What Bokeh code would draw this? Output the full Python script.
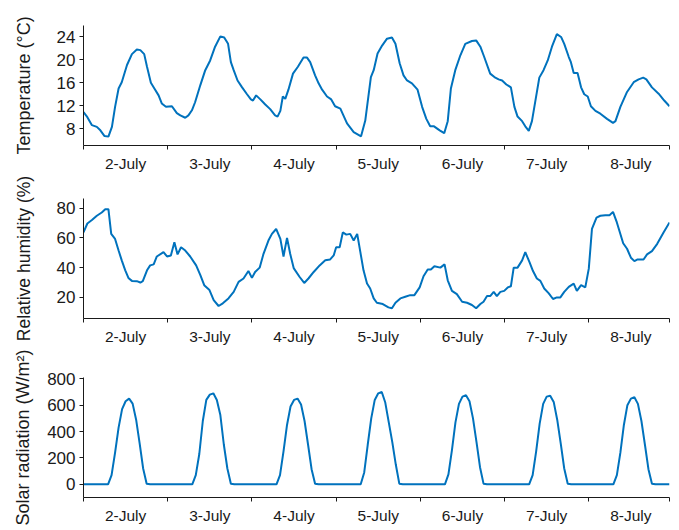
from bokeh.plotting import figure
from bokeh.models import Range1d, FixedTicker
from bokeh.layouts import column
from bokeh.embed import file_html
from bokeh.resources import INLINE

# ---------------- data (hours since 2-July 00:00) ----------------
day_labels = ["2-July", "3-July", "4-July", "5-July", "6-July", "7-July", "8-July"]
day_centers = [12, 36, 60, 84, 108, 132, 156]
day_bounds = [0, 24, 48, 72, 96, 120, 144, 167]

temp_hours = [0.0, 1.1, 2.4, 3.8, 4.8, 6.0, 7.1, 8.1, 9.0, 10.0, 10.9, 12.4, 13.8, 15.2, 16.2,
              17.3, 18.1, 19.2, 20.2, 21.4, 22.3, 23.5, 25.2, 26.6, 27.6, 29.0, 29.9, 30.9, 31.8,
              33.3, 34.7, 36.1, 37.5, 39.0, 40.1, 41.2, 42.0, 42.8, 43.9, 45.2, 46.6, 47.7, 48.3,
              49.2, 50.4, 51.8, 53.2, 54.6, 55.3, 56.1, 56.8, 57.5, 58.4, 59.7, 61.1, 62.7, 63.7,
              64.6, 66.0, 67.0, 68.0, 69.4, 70.6, 71.7, 73.2, 75.1, 77.0, 79.1, 80.3, 81.9, 82.7,
              83.8, 85.1, 86.5, 87.9, 88.9, 90.1, 91.2, 92.2, 93.6, 95.2, 96.5, 97.7, 98.8, 99.9,
              101.5, 102.8, 103.8, 104.7, 106.0, 107.4, 108.8, 110.7, 111.9, 113.1, 114.2, 115.9,
              117.1, 118.3, 119.3, 120.5, 121.8, 122.8, 123.7, 125.0, 125.9, 126.9, 127.8, 129.9,
              131.1, 132.3, 133.5, 134.9, 136.1, 137.0, 138.3, 138.9, 139.7, 140.8, 141.8, 142.7,
              143.7, 144.6, 145.9, 147.3, 149.2, 150.9, 151.6, 153.0, 154.9, 156.8, 158.2, 159.5,
              160.4, 162.0, 163.9, 165.5, 167.0]
temp_values = [10.9, 10.0, 8.6, 8.3, 7.7, 6.7, 6.6, 8.3, 11.8, 15.0, 16.1, 19.1, 21.0, 21.8, 21.7,
               21.0, 18.8, 16.0, 15.0, 13.8, 12.4, 11.8, 11.9, 10.7, 10.3, 9.9, 10.3, 11.2, 12.6,
               15.6, 18.2, 19.9, 22.3, 24.1, 23.9, 22.8, 19.6, 18.2, 16.4, 15.2, 14.0, 13.1, 12.9,
               13.8, 13.1, 12.2, 11.4, 10.3, 10.1, 11.1, 13.6, 13.2, 14.8, 17.6, 18.8, 20.4, 20.4,
               19.6, 17.3, 15.9, 14.8, 13.6, 13.1, 11.9, 11.5, 8.9, 7.4, 6.65, 9.4, 17.0, 18.2,
               21.1, 22.5, 23.7, 23.9, 22.8, 19.4, 17.3, 16.4, 15.9, 14.8, 11.8, 9.7, 8.4, 8.4,
               7.7, 7.2, 9.3, 15.0, 18.3, 20.8, 22.8, 23.3, 23.4, 22.3, 20.5, 17.6,
               17.0, 16.6, 16.4, 15.7, 15.2, 11.8, 10.1, 9.3, 8.4, 7.6, 9.3, 16.9,
               18.2, 19.9, 22.3, 24.5, 24.0, 22.8, 20.5, 19.6, 17.7, 17.7, 15.2, 14.0,
               13.6, 11.9, 11.1, 10.6, 9.7, 9.0, 9.3, 11.8, 14.4, 16.1, 16.6, 16.9,
               16.6, 15.2, 14.1, 12.9, 11.9]

rh_hours = [0.0, 1.1, 2.4, 3.8, 5.2, 6.2, 7.1, 7.9, 9.0, 10.0, 10.9, 11.9, 12.8, 13.8, 15.2, 16.2,
            16.9, 18.1, 19.0, 20.0, 20.9, 22.8, 23.8, 24.9, 25.9, 26.8, 27.8, 29.0, 30.4, 32.1,
            33.3, 34.4, 35.9, 37.1, 38.5, 39.7, 41.3, 42.8, 44.2, 45.6, 47.0, 48.0, 48.9, 50.2,
            51.3, 52.7, 53.7, 54.9, 56.1, 57.0, 58.0, 58.9, 59.9, 61.6, 62.9, 64.1, 65.6, 67.3,
            68.9, 70.3, 71.3, 72.0, 73.0, 73.9, 74.9, 76.0, 77.0, 78.0, 78.9, 79.8, 80.8, 81.7,
            82.7, 83.6, 85.3, 86.9, 87.9, 88.9, 90.3, 91.7, 93.1, 94.3, 95.8, 96.9, 98.1, 99.0,
            100.0, 101.7, 102.9, 103.8, 105.0, 106.4, 107.9, 109.3, 110.7, 111.9, 113.1, 114.0,
            115.0, 115.9, 116.9, 117.8, 118.8, 119.9, 120.9, 121.8, 122.6, 123.7, 125.0, 125.9,
            127.1, 128.1, 129.2, 130.2, 131.3, 132.6, 133.8, 134.9, 135.9, 137.0, 138.3, 139.7,
            140.6, 141.8, 143.0, 144.0, 144.9, 146.2, 147.3, 148.7, 149.9, 150.9, 152.0, 153.8,
            154.9, 156.0, 157.0, 157.9, 159.6, 160.6, 162.0, 163.5, 165.3, 167.0]
rh_values = [63.7, 69.7, 72.0, 74.9, 77.1, 79.3, 79.3, 62.7, 59.3, 51.5, 44.9, 38.2, 33.1, 31.1, 30.9, 30.0,
             30.9, 38.2, 41.5, 42.2, 47.5, 50.4, 47.5, 48.2, 57.1, 48.9, 53.7, 51.5, 47.5, 41.5,
             34.9, 28.2, 24.9, 18.2, 14.2, 16.0, 19.3, 23.7, 30.4, 32.7, 37.7, 33.1, 37.1, 40.0,
             49.3, 58.2, 62.7, 66.0, 59.3, 47.5, 60.0, 49.3, 39.7, 33.7, 29.7, 32.7, 37.1, 41.5,
             44.9, 45.5, 48.2, 53.7, 53.7, 63.7, 62.2, 62.7, 58.2, 62.7, 50.4, 38.2, 29.3, 26.0,
             19.3, 16.4, 15.5, 13.3, 12.7, 16.4, 19.3, 20.4, 21.5, 21.5, 26.7, 34.2, 38.7, 38.7,
             40.9, 40.0, 42.2, 31.5, 24.4, 22.2, 17.1, 16.4, 14.9, 12.7, 15.5, 17.1,
             20.9, 20.9, 23.7, 20.9, 23.7, 24.4, 26.7, 27.5, 40.0, 40.0, 44.9, 50.4,
             43.7, 37.7, 32.7, 31.1, 26.0, 22.7, 18.9, 20.0, 20.0, 23.7, 27.1, 29.3,
             24.4, 28.2, 26.7, 39.3, 66.0, 73.7, 74.9, 75.3, 75.3, 77.5, 70.4, 56.4,
             52.7, 46.7, 44.4, 45.5, 45.5, 48.9, 51.1, 56.0, 63.7, 70.4]

# solar radiation, hourly (W/m2), one list per day
sr_2july = [0, 0, 0, 0, 0, 0, 0, 0, 70, 240, 430, 570, 630, 650, 612, 490, 310, 120, 5, 0, 0, 0, 0, 0]
sr_3july = [0, 0, 0, 0, 0, 0, 0, 0, 70, 230, 480, 640, 680, 690, 640, 525, 300, 120, 5, 0, 0, 0, 0, 0]
sr_4july = [0, 0, 0, 0, 0, 0, 0, 0, 70, 250, 450, 590, 640, 650, 605, 480, 300, 115, 5, 0, 0, 0, 0, 0]
sr_5july = [0, 0, 0, 0, 0, 0, 0, 0, 90, 300, 500, 640, 690, 700, 620, 470, 320, 150, 5, 0, 0, 0, 0, 0]
sr_6july = [0, 0, 0, 0, 0, 0, 0, 0, 75, 260, 470, 610, 665, 675, 630, 500, 320, 130, 5, 0, 0, 0, 0, 0]
sr_7july = [0, 0, 0, 0, 0, 0, 0, 0, 70, 250, 460, 610, 665, 672, 625, 490, 310, 120, 5, 0, 0, 0, 0, 0]
sr_8july = [0, 0, 0, 0, 0, 0, 0, 0, 70, 240, 450, 600, 650, 660, 610, 480, 300, 115, 5, 0, 0, 0, 0, 0]
sr_values = sr_2july + sr_3july + sr_4july + sr_5july + sr_6july + sr_7july + sr_8july
sr_hours = list(range(len(sr_values)))

temp_ticks = [8, 12, 16, 20, 24]
rh_ticks = [20, 40, 60, 80]
sr_ticks = [0, 200, 400, 600, 800]

LINE = "#0072BD"
TXT = "#1a1a1a"
FONT = "Liberation Sans"


def make_panel(xs, ys, yrange, yticks, ytitle, top, bottom, title_standoff, title_size):
    p = figure(frame_width=586, frame_height=120,
               x_range=Range1d(0, 167), y_range=Range1d(*yrange),
               output_backend="svg", toolbar_location=None,
               min_border_left=83, min_border_right=2,
               min_border_top=top, min_border_bottom=bottom)
    p.outline_line_color = None
    p.grid.visible = False
    p.background_fill_color = "white"
    p.border_fill_color = "white"

    xa = p.xaxis[0]
    xa.ticker = FixedTicker(ticks=day_centers, minor_ticks=day_bounds)
    xa.major_label_overrides = {c: l for c, l in zip(day_centers, day_labels)}
    xa.major_tick_out = 0
    xa.major_tick_in = 0
    xa.minor_tick_out = 4
    xa.minor_tick_in = 0
    xa.major_label_standoff = 5
    xa.major_label_text_font = FONT
    xa.major_label_text_font_size = "15.5px"
    xa.major_label_text_color = TXT
    xa.axis_line_color = TXT
    xa.minor_tick_line_color = TXT

    ya = p.yaxis[0]
    ya.ticker = FixedTicker(ticks=yticks, minor_ticks=[])
    ya.major_tick_out = 4
    ya.major_tick_in = 0
    ya.minor_tick_out = 0
    ya.minor_tick_in = 0
    ya.major_label_standoff = 4
    ya.major_label_text_font = FONT
    ya.major_label_text_font_size = "17px"
    ya.major_label_text_color = TXT
    ya.axis_line_color = TXT
    ya.major_tick_line_color = TXT
    ya.axis_label = ytitle
    ya.axis_label_text_font = FONT
    ya.axis_label_text_font_size = title_size
    ya.axis_label_text_font_style = "normal"
    ya.axis_label_text_color = TXT
    ya.axis_label_standoff = title_standoff

    p.line(xs, ys, line_color=LINE, line_width=2)
    return p


p1 = make_panel(temp_hours, temp_values, (5.05, 26.0), temp_ticks,
                "Temperature (\u00b0C)", 25, 26, 20, "18px")
p2 = make_panel(rh_hours, rh_values, (5.8, 86.5), rh_ticks,
                "Relative humidity (%)", 24, 29, 20, "17.5px")
p3 = make_panel(sr_hours, sr_values, (-100, 810), sr_ticks,
                "Solar radiation (W/m\u00b2)", 30, 30, 11, "18px")

layout = column(p1, p2, p3, spacing=0)
open("out.html", "w").write(file_html(layout, INLINE))
